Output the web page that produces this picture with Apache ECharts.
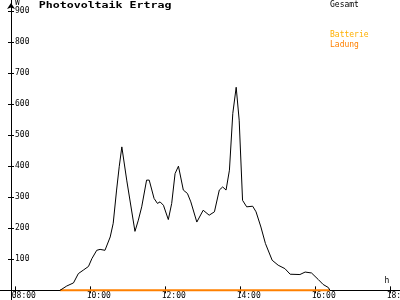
<!DOCTYPE html>
<html><head><meta charset="utf-8">
<script src="https://cdn.jsdelivr.net/npm/echarts@6/dist/echarts.min.js"></script>
<style>html,body{margin:0;padding:0;background:#fff}#c{width:400px;height:300px}</style>
</head><body><div id="c"></div>
<script>
// time of day in hours
const times = [9.18, 9.36, 9.54, 9.67, 9.80, 9.94, 10.03, 10.16, 10.25, 10.38, 10.52, 10.60, 10.69, 10.76, 10.83, 10.96, 11.18, 11.27, 11.36, 11.49, 11.56, 11.69, 11.78, 11.85, 11.94, 12.07, 12.16, 12.25, 12.34, 12.47, 12.58, 12.67, 12.83, 13.00, 13.16, 13.21, 13.30, 13.43, 13.52, 13.61, 13.70, 13.79, 13.88, 13.96, 14.05, 14.16, 14.32, 14.41, 14.54, 14.66, 14.84, 15.00, 15.18, 15.32, 15.58, 15.72, 15.89, 16.07, 16.20, 16.34, 16.38];
// Gesamt (W)
const gesamt = [0, 14, 24, 54, 65, 77, 102, 129, 132, 129, 172, 216, 323, 398, 462, 355, 190, 226, 269, 355, 355, 296, 280, 285, 274, 228, 280, 376, 400, 323, 312, 285, 220, 258, 242, 239, 253, 323, 333, 323, 387, 570, 654, 548, 290, 269, 271, 253, 204, 151, 97, 81, 70, 52, 51, 59, 56, 35, 19, 9, 0];
const ladungTimes = [9.18, 16.38];
const ladung = [0, 0];
const batterie = [];
const xTicks = [8, 10, 12, 14, 16, 18];
const yTicks = [100, 200, 300, 400, 500, 600, 700, 800, 900];
const titleText = 'Photovoltaik Ertrag';
const seriesNames = ['Gesamt', 'Batterie', 'Ladung'];
const legendColors = ['#000000', '#ffb000', '#ff8000'];

const fmtTime = h => String(h).padStart(2, '0') + ':00';
const zip = (a, b) => a.map((v, i) => [v, b[i]]);

const XMIN = 7.58, XMAX = 18.25, YMIN = -31, YMAX = 935;
const LABEL_SHIFT = 4 * (XMAX - XMIN) / 400; // labels start 4px left of their tick
const mono = 'DejaVu Sans Mono';

const legendTops = [-0.5, 29.5, 39.5];
const legends = seriesNames.map((n, i) => ({
  data: [n], left: 325, top: legendTops[i], orient: 'vertical', icon: 'none',
  itemWidth: 0, itemHeight: 10, padding: 0,
  textStyle: {fontFamily: mono, fontSize: 8, lineHeight: 10, color: legendColors[i]}
}));

const chart = echarts.init(document.getElementById('c'), null, {renderer: 'canvas'});
chart.setOption({
  animation: false,
  backgroundColor: '#fff',
  grid: {left: 0, right: 0, top: 0, bottom: 0, containLabel: false, outerBoundsMode: 'none'},
  xAxis: [
    {
      type: 'value', position: 'bottom', min: XMIN, max: XMAX,
      axisLine: {show: true, onZero: true, lineStyle: {color: '#000', width: 1}},
      axisTick: {show: true, inside: true, length: 4, customValues: xTicks, lineStyle: {color: '#000'}},
      axisLabel: {show: false},
      splitLine: {show: false}
    },
    {
      type: 'value', position: 'bottom', min: XMIN, max: XMAX,
      axisLine: {show: false, onZero: true},
      axisTick: {show: true, inside: false, length: 3, customValues: xTicks, lineStyle: {color: '#000'}},
      axisLabel: {show: false},
      splitLine: {show: false}
    },
    {
      type: 'value', position: 'bottom', min: XMIN + LABEL_SHIFT, max: XMAX + LABEL_SHIFT,
      axisLine: {show: false, onZero: false},
      axisTick: {show: false},
      axisLabel: {show: true, customValues: xTicks, formatter: v => fmtTime(v),
        fontFamily: mono, fontSize: 8, color: '#000', align: 'left', verticalAlign: 'middle', margin: -4.2},
      splitLine: {show: false}
    }
  ],
  yAxis: [
    {
      type: 'value', position: 'left', offset: -11, min: YMIN, max: YMAX,
      axisLine: {show: true, onZero: false, symbol: ['none', 'arrow'], symbolSize: [6, 6], symbolOffset: [0, -3],
        lineStyle: {color: '#000', width: 1}},
      axisTick: {show: true, inside: true, length: 3, customValues: yTicks, lineStyle: {color: '#000'}},
      axisLabel: {show: true, inside: true, customValues: yTicks, margin: 4, align: 'left', verticalAlign: 'middle',
        fontFamily: mono, fontSize: 8, color: '#000'},
      splitLine: {show: false}
    },
    {
      type: 'value', position: 'left', offset: -11, min: YMIN, max: YMAX,
      axisLine: {show: false, onZero: false},
      axisTick: {show: true, inside: false, length: 3, customValues: yTicks, lineStyle: {color: '#000'}},
      axisLabel: {show: false},
      splitLine: {show: false}
    }
  ],
  legend: legends,
  graphic: [
    {type: 'text', x: 38.7, y: 6, scaleX: 1.29, z: 10,
      style: {text: titleText, font: 'bold 9px "DejaVu Sans Mono"', fill: '#000', align: 'left', verticalAlign: 'middle'}},
    {type: 'text', x: 15, y: 2.6, z: 10,
      style: {text: 'W', font: '8px "DejaVu Sans Mono"', fill: '#000', align: 'left', verticalAlign: 'middle'}},
    {type: 'text', x: 384.5, y: 281, z: 10,
      style: {text: 'h', font: '8px "DejaVu Sans Mono"', fill: '#000', align: 'left', verticalAlign: 'middle'}}
  ],
  series: [
    {name: seriesNames[2], type: 'line', xAxisIndex: 0, yAxisIndex: 0, data: zip(ladungTimes, ladung),
      symbol: 'none', showSymbol: false, lineStyle: {color: '#ff8000', width: 2}, itemStyle: {color: '#ff8000'}, z: 3},
    {name: seriesNames[1], type: 'line', xAxisIndex: 0, yAxisIndex: 0, data: batterie,
      symbol: 'none', showSymbol: false, lineStyle: {color: '#ffb000', width: 2}, itemStyle: {color: '#ffb000'}, z: 3},
    {name: seriesNames[0], type: 'line', xAxisIndex: 0, yAxisIndex: 0, data: zip(times, gesamt),
      symbol: 'none', showSymbol: false, lineStyle: {color: '#000', width: 1}, itemStyle: {color: '#000'}, z: 4}
  ]
});
</script>
</body></html>
